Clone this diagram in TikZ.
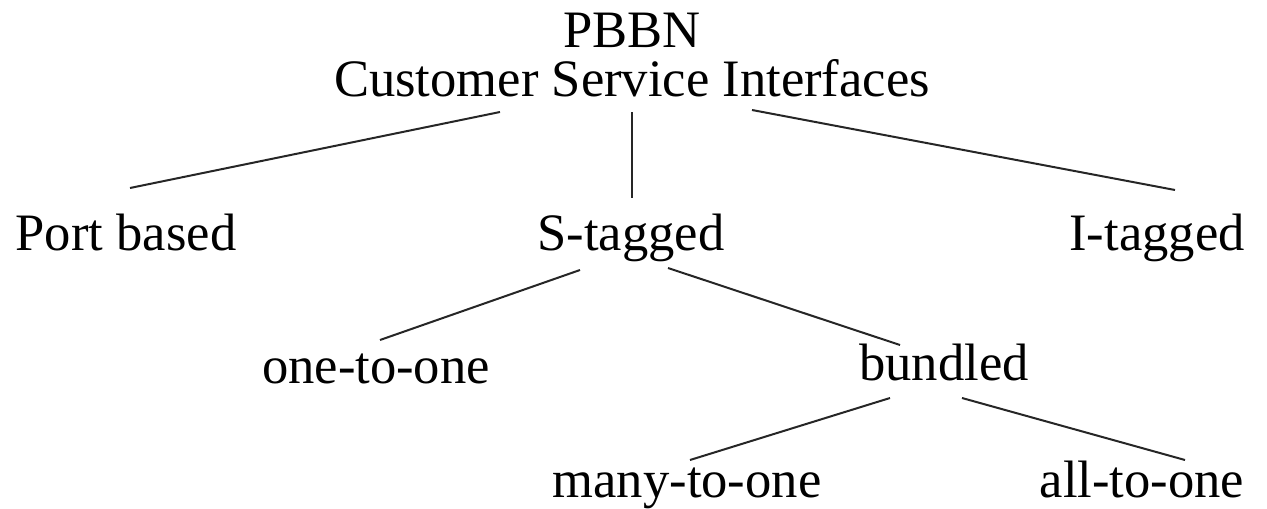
\documentclass[tikz,border=0pt]{standalone}
\usepackage{fontspec}
\setmainfont{Liberation Serif}
\usetikzlibrary{calc}

\tikzset{
  term/.style={anchor=base, inner sep=0pt, font=\fontsize{26.3}{30}\selectfont},
  branch/.style={line width=1pt, draw=black!85}
}

\begin{document}
\begin{tikzpicture}[x=0.5pt, y=-0.5pt]
    \useasboundingbox (0,0) rectangle (1267,508);
    % root
    \node[term] (pbbn) at (632,48) {PBBN};
    \node[term] (csi) at (632,97) {Customer Service Interfaces};
    % first level
    \node[term] (port) at (126,250) {Port based};
    \node[term] (stag) at (631,250) {S-tagged};
    \node[term] (itag) at (1157,250) {I-tagged};
    % second level
    \node[term] (one) at (376,383) {one-to-one};
    \node[term] (bund) at (944,380) {bundled};
    % third level
    \node[term] (many) at (687,497) {many-to-one};
    \node[term] (all) at (1142,497) {all-to-one};

    \draw[branch] ($(csi.base)+(-132,15)$) -- ($(port.base)+(4,-62)$);
    \draw[branch] ($(csi.base)+(0,15)$) -- ($(stag.base)+(1,-52)$);
    \draw[branch] ($(csi.base)+(120,13)$) -- ($(itag.base)+(18,-60)$);
    \draw[branch] ($(stag.base)+(-51,20)$) -- ($(one.base)+(4,-43)$);
    \draw[branch] ($(stag.base)+(37,18)$) -- ($(bund.base)+(-44,-35)$);
    \draw[branch] ($(bund.base)+(-54,18)$) -- ($(many.base)+(3,-37)$);
    \draw[branch] ($(bund.base)+(18,18)$) -- ($(all.base)+(43,-37)$);
\end{tikzpicture}
\end{document}
